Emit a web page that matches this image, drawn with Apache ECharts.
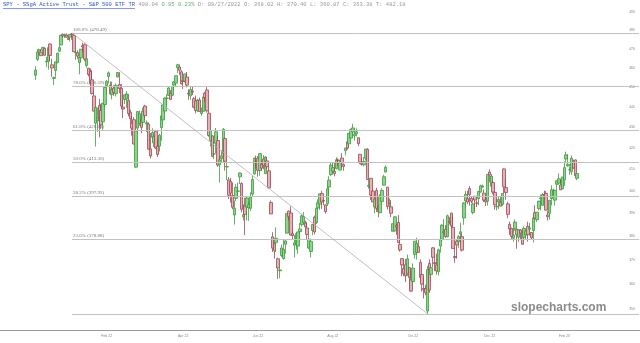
<!DOCTYPE html>
<html>
<head>
<meta charset="utf-8">
<script src="https://cdn.jsdelivr.net/npm/echarts@6/dist/echarts.min.js"></script>
<style>
  html, body { margin: 0; padding: 0; background: #fff; }
  #chart { width: 640px; height: 343px; }
</style>
</head>
<body>
<div id="chart"></div>
<script>
  const firstDay = '2021-12-06';
  const lastDay = '2023-02-10';
  const holidays = ['2021-12-24', '2022-01-17', '2022-02-21', '2022-04-15', '2022-05-30', '2022-06-20',
    '2022-07-04', '2022-09-05', '2022-11-24', '2022-12-26', '2023-01-02', '2023-01-16'];

  // [open, close, low, high], one row per trading day
  const ohlc = [
    // Dec 2021
    [456.13, 458.79, 453.73, 460.79], [464.41, 468.28, 463.51, 468.88], [468.70, 469.52, 466.27, 470.00],
    [468.15, 466.35, 466.14, 469.63], [469.23, 470.74, 466.47, 470.90], [470.19, 466.57, 466.08, 470.56],
    [463.09, 463.36, 460.25, 465.74], [463.42, 470.60, 459.00, 470.86], [472.57, 466.45, 463.39, 472.87],
    [461.55, 459.87, 455.31, 464.74], [454.48, 454.98, 451.14, 455.40], [458.61, 463.06, 455.29, 463.21],
    [462.79, 467.69, 462.23, 467.81], [468.75, 470.60, 468.31, 472.19], [472.06, 477.26, 472.01, 477.31],
    [477.72, 476.87, 476.06, 478.21], [476.98, 477.48, 475.75, 478.16], [477.43, 476.16, 475.86, 478.30],
    [475.64, 474.96, 474.67, 476.86],
    // Jan 2022
    [476.30, 477.71, 473.85, 477.85], [478.00, 477.55, 474.81, 478.49], [477.16, 468.38, 468.28, 477.98],
    [467.89, 467.94, 464.07, 470.82], [467.95, 466.09, 464.65, 469.20], [462.70, 465.51, 456.60, 465.74],
    [465.23, 469.75, 463.04, 469.85], [471.59, 471.02, 468.22, 473.20], [472.19, 464.53, 463.44, 472.88],
    [461.19, 464.72, 459.96, 465.09], [459.74, 456.49, 455.55, 459.96], [458.13, 451.75, 451.06, 459.61],
    [453.75, 446.75, 446.26, 458.74], [445.56, 437.98, 437.82, 448.06], [432.03, 439.84, 420.76, 440.38],
    [433.06, 434.47, 427.86, 439.72], [440.72, 433.38, 425.14, 444.04], [438.26, 431.24, 429.26, 441.59],
    [432.68, 441.95, 428.46, 442.00], [441.24, 449.91, 439.81, 450.28],
    // Feb 2022
    [450.68, 452.95, 446.93, 453.63], [455.50, 457.35, 451.81, 458.12], [450.95, 446.60, 445.92, 452.97],
    [446.35, 448.70, 443.83, 452.78], [449.51, 447.26, 445.59, 450.99], [446.73, 450.94, 445.26, 451.92],
    [455.22, 457.54, 455.01, 457.88], [451.34, 449.32, 446.97, 457.71], [449.41, 440.46, 438.94, 451.61],
    [439.92, 439.02, 434.55, 443.50], [443.73, 446.10, 441.51, 446.28], [443.93, 446.60, 439.60, 448.06],
    [443.22, 436.73, 435.33, 446.57], [437.33, 434.23, 431.82, 438.66], [431.89, 429.57, 425.95, 435.50],
    [433.72, 421.95, 421.79, 435.00], [411.02, 428.30, 410.64, 428.76], [429.61, 437.75, 426.92, 437.84],
    [432.03, 436.63, 430.70, 438.20],
    // Mar 2022
    [435.04, 429.98, 427.11, 437.17], [432.37, 437.89, 430.70, 439.72], [440.47, 435.71, 433.61, 441.11],
    [431.75, 432.17, 427.68, 433.37], [431.55, 419.43, 419.36, 432.30], [419.62, 416.25, 415.12, 427.21],
    [425.14, 427.41, 422.90, 429.51], [422.52, 425.48, 420.44, 426.43], [428.12, 420.07, 419.53, 428.77],
    [420.89, 417.00, 415.79, 424.55], [420.94, 426.17, 418.36, 426.84], [429.89, 435.62, 423.55, 435.68],
    [433.59, 441.07, 433.19, 441.07], [438.00, 444.52, 437.15, 444.86], [444.34, 444.39, 440.68, 446.46],
    [445.86, 449.59, 445.54, 450.58], [446.91, 443.80, 443.71, 448.49], [445.94, 450.49, 445.40, 450.50],
    [451.16, 452.69, 448.43, 452.98], [452.06, 455.91, 450.06, 455.91], [460.02, 461.55, 457.18, 462.07],
    [460.34, 458.70, 456.30, 461.20], [457.89, 451.64, 451.43, 458.76],
    // Apr 2022
    [453.31, 452.92, 449.14, 453.46], [453.13, 456.80, 452.31, 456.91], [455.22, 451.03, 449.82, 457.83],
    [446.89, 446.52, 443.59, 448.93], [445.59, 448.77, 443.71, 450.69], [447.97, 447.57, 445.94, 450.63],
    [444.11, 439.92, 439.39, 445.00], [443.08, 438.29, 436.84, 445.75], [438.03, 443.31, 437.68, 444.11],
    [443.55, 437.79, 437.72, 444.73], [436.81, 437.97, 435.68, 439.75], [437.86, 445.04, 437.68, 445.80],
    [446.92, 444.71, 442.43, 447.57], [448.54, 438.06, 437.18, 450.01], [436.91, 426.04, 425.44, 438.08],
    [423.67, 428.51, 420.76, 428.69], [425.83, 416.10, 415.71, 426.04], [417.24, 417.27, 414.85, 422.92],
    [422.29, 427.81, 417.60, 429.66], [423.59, 412.00, 411.21, 425.87],
    // May 2022
    [412.07, 414.48, 403.93, 415.92], [415.01, 416.38, 413.03, 418.93], [417.08, 429.06, 413.36, 429.66],
    [424.55, 413.81, 409.44, 425.00], [411.10, 411.34, 405.02, 414.80], [405.10, 398.17, 396.50, 406.41],
    [404.49, 399.09, 394.82, 406.08], [398.07, 392.75, 391.91, 404.04], [389.37, 392.34, 385.15, 395.80],
    [396.71, 401.72, 395.61, 403.18], [399.98, 400.09, 397.66, 403.97], [406.53, 408.32, 403.21, 408.57],
    [403.50, 391.86, 390.55, 404.03], [388.62, 389.46, 386.96, 394.14], [393.25, 389.63, 380.54, 397.03],
    [392.83, 396.92, 386.96, 397.73], [392.56, 393.89, 386.78, 395.15], [392.31, 397.37, 391.13, 399.45],
    [398.67, 405.31, 397.75, 407.04], [407.91, 415.26, 407.52, 415.38], [413.55, 412.93, 410.40, 416.46],
    // Jun 2022
    [415.17, 409.59, 406.60, 416.24], [409.42, 417.39, 407.04, 417.44], [412.40, 410.54, 409.47, 414.04],
    [414.78, 411.79, 410.05, 416.61], [408.10, 415.74, 407.71, 416.22], [413.93, 411.22, 410.16, 415.82],
    [409.34, 401.44, 401.41, 411.74], [394.88, 389.80, 389.75, 395.78], [379.85, 375.00, 373.30, 381.81],
    [376.85, 373.87, 370.55, 377.94], [377.36, 379.20, 373.36, 383.90], [370.51, 366.65, 362.17, 370.94],
    [365.51, 365.86, 362.43, 369.38], [371.89, 375.07, 371.18, 376.53], [370.62, 374.39, 370.18, 378.83],
    [376.64, 378.06, 372.68, 378.83], [381.40, 390.08, 381.37, 390.09], [391.05, 388.59, 386.97, 391.36],
    [390.23, 380.65, 380.38, 393.16], [381.23, 380.34, 378.45, 382.27], [376.24, 377.25, 371.04, 380.66],
    // Jul 2022
    [376.56, 381.24, 374.33, 381.70], [375.88, 381.96, 372.60, 381.98], [382.11, 383.25, 378.42, 385.87],
    [385.12, 388.99, 384.25, 389.83], [385.96, 388.67, 385.27, 390.64], [385.85, 384.23, 383.74, 386.87],
    [383.65, 380.83, 378.85, 386.16], [375.10, 378.83, 374.66, 381.92], [373.61, 377.91, 371.04, 379.05],
    [382.55, 385.13, 380.54, 385.25], [388.38, 381.95, 380.85, 389.09], [386.08, 392.27, 385.39, 392.87],
    [392.47, 394.77, 391.96, 396.26], [394.16, 398.79, 391.63, 398.84], [398.92, 395.09, 392.03, 400.18],
    [395.75, 395.57, 393.65, 396.47], [393.84, 390.89, 389.95, 394.06], [394.36, 401.04, 393.29, 402.88],
    [401.89, 405.01, 397.73, 406.80], [407.58, 411.99, 406.93, 413.03],
    // Aug 2022
    [409.15, 410.77, 408.10, 413.41], [409.12, 408.06, 406.78, 413.00], [410.30, 414.45, 410.03, 415.68],
    [414.37, 414.17, 411.64, 415.09], [409.66, 413.47, 409.57, 414.15], [415.25, 412.99, 410.59, 417.62],
    [412.22, 411.35, 409.34, 412.75], [418.78, 419.99, 416.54, 420.12], [422.99, 419.99, 419.21, 424.96],
    [422.03, 427.10, 421.03, 427.21], [424.77, 428.86, 424.50, 429.40], [427.73, 429.70, 426.11, 431.73],
    [425.88, 426.65, 423.60, 428.82], [426.86, 427.89, 425.53, 429.50], [424.98, 422.14, 420.96, 425.00],
    [417.05, 413.35, 412.40, 417.20], [412.90, 412.35, 411.77, 415.41], [412.11, 413.67, 411.36, 415.83],
    [415.24, 419.51, 414.13, 419.56], [419.39, 405.31, 405.25, 419.96], [402.20, 402.63, 401.11, 405.84],
    [405.89, 398.21, 395.96, 405.91], [400.05, 395.18, 395.04, 400.72],
    // Sep 2022
    [392.89, 396.42, 390.04, 396.78], [400.28, 392.24, 390.67, 401.56], [393.13, 390.76, 388.42, 394.12],
    [390.37, 397.78, 390.19, 398.58], [395.30, 400.38, 395.12, 401.28], [402.74, 406.60, 402.55, 407.51],
    [408.78, 410.97, 408.57, 411.73], [401.83, 393.10, 391.77, 401.93], [394.47, 394.60, 391.07, 396.77],
    [392.96, 390.12, 388.42, 395.96], [382.26, 385.56, 382.11, 385.62], [382.43, 388.55, 382.23, 388.82],
    [384.88, 384.09, 380.66, 385.54], [386.11, 377.39, 377.30, 389.31], [376.58, 374.22, 373.52, 378.30],
    [370.58, 367.95, 363.29, 370.62], [366.41, 364.31, 363.29, 370.21], [368.02, 363.38, 360.87, 370.40],
    [364.38, 370.53, 363.30, 372.30], [366.79, 362.79, 358.70, 367.11], [361.80, 357.18, 357.04, 365.91],
    // Oct 2022
    [361.08, 366.61, 359.21, 368.55], [372.40, 377.97, 370.62, 378.00], [373.15, 377.09, 370.18, 379.46],
    [375.62, 373.20, 372.91, 378.72], [368.97, 362.79, 360.94, 370.21], [363.96, 360.02, 357.04, 364.21],
    [358.24, 357.74, 354.23, 363.03], [358.17, 356.56, 355.54, 359.82], [349.21, 365.97, 348.11, 367.51],
    [368.55, 357.63, 356.50, 370.26], [364.01, 366.82, 363.42, 367.98], [375.13, 371.13, 367.11, 375.45],
    [368.89, 368.50, 365.37, 371.84], [368.03, 365.41, 363.92, 372.67], [365.12, 374.29, 363.55, 374.80],
    [375.89, 378.87, 373.11, 380.06], [378.79, 384.92, 377.87, 385.25], [381.62, 382.02, 381.00, 387.58],
    [383.07, 379.98, 379.34, 385.00], [379.87, 389.02, 379.68, 389.52], [386.44, 386.21, 385.12, 388.40],
    // Nov 2022
    [390.14, 384.52, 383.29, 390.39], [383.90, 374.87, 374.76, 388.63], [371.47, 371.01, 368.79, 375.16],
    [377.99, 376.35, 370.62, 378.87], [377.71, 379.95, 375.18, 380.57], [381.11, 382.00, 377.07, 386.00],
    [379.93, 374.13, 373.61, 381.14], [388.05, 394.69, 385.06, 395.04], [395.59, 398.51, 393.31, 400.22],
    [396.66, 395.12, 394.15, 400.18], [401.15, 398.49, 393.48, 402.31], [396.78, 395.45, 394.55, 397.78],
    [390.46, 394.24, 389.64, 394.95], [397.74, 396.03, 391.34, 397.81], [394.64, 394.59, 392.92, 395.82],
    [396.63, 399.90, 393.68, 400.07], [399.55, 402.42, 399.31, 402.93], [401.83, 402.33, 401.54, 403.03],
    [399.09, 395.91, 395.11, 400.81], [396.05, 395.23, 393.30, 397.30], [395.49, 407.68, 393.48, 407.68],
    // Dec 2022
    [408.77, 407.38, 404.05, 410.00], [402.25, 406.91, 402.14, 407.86], [403.95, 399.59, 398.55, 404.93],
    [399.42, 393.83, 391.69, 399.99], [392.94, 393.16, 391.40, 395.64], [395.14, 396.24, 391.97, 397.36],
    [394.94, 393.28, 393.14, 397.30], [394.11, 398.95, 393.26, 398.99], [410.22, 401.97, 399.07, 410.49],
    [401.61, 399.40, 396.10, 405.50], [394.30, 389.63, 387.95, 395.25], [385.18, 383.27, 380.66, 386.50],
    [383.47, 380.02, 378.43, 383.82], [379.23, 380.54, 377.83, 383.40], [383.25, 386.23, 382.46, 387.41],
    [383.05, 380.72, 374.77, 383.18], [379.65, 382.91, 377.64, 383.06], [382.79, 381.40, 378.43, 383.15],
    [381.33, 376.66, 376.42, 383.39], [379.63, 383.44, 379.36, 384.35], [380.64, 382.43, 378.46, 382.58],
    // Jan 2023
    [384.37, 380.82, 377.83, 386.43], [383.18, 383.76, 380.34, 385.88], [381.72, 379.38, 378.76, 381.84],
    [382.61, 388.08, 377.36, 389.25], [390.37, 387.86, 387.67, 393.70], [387.25, 390.58, 386.27, 390.65],
    [392.23, 395.52, 391.38, 395.60], [396.67, 396.96, 391.38, 398.49], [393.62, 398.50, 393.40, 399.10],
    [398.48, 397.77, 396.04, 400.23], [399.01, 391.49, 391.30, 400.12], [389.36, 388.64, 386.93, 391.08],
    [390.10, 395.88, 387.26, 396.04], [396.72, 400.63, 393.56, 402.65], [398.88, 400.20, 397.64, 401.15],
    [395.95, 400.35, 393.56, 400.70], [403.13, 404.75, 400.28, 404.92], [403.66, 405.68, 403.02, 408.16],
    [402.80, 400.59, 400.51, 405.13], [401.13, 406.48, 400.77, 406.53],
    // Feb 2023
    [405.21, 410.80, 402.35, 413.67], [414.86, 416.78, 412.83, 418.31], [411.59, 412.35, 411.29, 416.97],
    [409.79, 409.83, 407.57, 411.29], [408.87, 415.19, 407.52, 416.49], [413.13, 410.65, 410.24, 414.53],
    [414.41, 407.09, 405.98, 414.57], [405.86, 408.04, 405.01, 408.44]
  ];

  const yTicks = [350, 360, 370, 380, 390, 400, 410, 420, 430, 440, 450, 460, 470, 480, 490];
  const xTickDates = ['2022-02-01', '2022-04-01', '2022-06-01', '2022-08-01', '2022-10-03', '2022-12-01', '2023-02-01'];
  const xTickLabels = ['Feb 22', 'Apr 22', 'Jun 22', 'Aug 22', 'Oct 22', 'Dec 22', 'Feb 23'];

  const fibStart = '2022-01-04';
  const fibValues = [478.49, 450.59, 428.68, 413.30, 397.92, 378.88, 348.11];
  const fibLabels = ['100.0% (478.49)', '78.6% (450.59)', '61.8% (428.68)', '50.0% (413.30)',
    '38.2% (397.92)', '23.6% (378.88)', ''];
  const trendFrom = ['2022-01-04', 478.49];
  const trendTo = ['2022-10-13', 348.11];

  // empty slots so the axis runs edge to edge
  const padLeft = 19;
  const padRight = 34;

  const days = [];
  let d = new Date(firstDay + 'T00:00:00Z');
  const end = new Date(lastDay + 'T00:00:00Z');
  while (d <= end) {
    const s = d.toISOString().slice(0, 10);
    const wd = d.getUTCDay();
    if (wd !== 0 && wd !== 6 && holidays.indexOf(s) < 0) days.push(s);
    d = new Date(d.getTime() + 86400000);
  }
  if (days.length !== ohlc.length) console.warn('day count mismatch', days.length, ohlc.length);

  const cats = [];
  const candles = [];
  for (let i = 0; i < padLeft; i++) { cats.push('L' + i); candles.push(['-', '-', '-', '-']); }
  days.forEach((day, i) => { cats.push(day); candles.push(ohlc[i]); });
  for (let i = 0; i < padRight; i++) { cats.push('R' + i); candles.push(['-', '-', '-', '-']); }
  const lastCat = cats[cats.length - 1];

  const chart = echarts.init(document.getElementById('chart'));
  chart.setOption({
    animation: false,
    grid: { left: 0, right: 0, top: 3, bottom: 13 },
    xAxis: {
      type: 'category',
      data: cats,
      boundaryGap: true,
      axisLine: { show: true, lineStyle: { color: '#9a9a9a', width: 1 } },
      axisTick: { show: false },
      splitLine: { show: false },
      axisLabel: {
        interval: (idx, val) => xTickDates.indexOf(val) >= 0,
        formatter: (val) => xTickLabels[xTickDates.indexOf(val)] || '',
        fontSize: 3.5,
        color: '#888',
        margin: 4,
        fontFamily: 'Liberation Sans'
      }
    },
    yAxis: {
      type: 'log',
      logBase: 10,
      min: 341.8,
      max: 495,
      position: 'right',
      axisLine: { show: false },
      axisTick: { show: false },
      splitLine: { show: false },
      axisLabel: {
        inside: true,
        customValues: yTicks,
        fontSize: 3.5,
        color: '#888',
        margin: 5,
        fontFamily: 'Liberation Sans'
      }
    },
    graphic: [
      {
        type: 'text', left: 3, top: 2,
        style: {
          text: '{t|SPY - SSgA Active Trust - S&P 500 ETF TR} {v|408.04} {g|0.95 0.23%} {v|D: 09/27/2022 O: 368.02 H: 370.40 L: 360.87 C: 363.38 T: 482.18}',
          font: '5.5px "Liberation Mono"',
          rich: {
            t: { fill: '#3355cc', fontSize: 5.5, fontFamily: 'Liberation Mono' },
            v: { fill: '#999', fontSize: 5.5, fontFamily: 'Liberation Mono' },
            g: { fill: '#6bb36b', fontSize: 5.5, fontFamily: 'Liberation Mono' }
          }
        }
      },
      { type: 'line', shape: { x1: 3, y1: 8.5, x2: 135, y2: 8.5 }, style: { stroke: '#3355cc', lineWidth: 0.6 } },
      {
        type: 'text', left: 511, top: 302,
        style: { text: 'slopecharts.com', font: 'bold 12px "Liberation Sans"', fill: '#8c8c8c' }
      }
    ],
    series: [
      {
        type: 'line',
        data: [],
        z: 1,
        silent: true,
        markLine: {
          silent: true,
          symbol: ['none', 'none'],
          animation: false,
          lineStyle: { type: 'solid', color: '#c2c2c2', width: 1 },
          label: {
            position: 'insideStartTop',
            distance: 1,
            fontSize: 5,
            color: '#777',
            fontFamily: 'Liberation Serif'
          },
          data: fibValues.map((v, i) => [
            { coord: [fibStart, v], label: { show: fibLabels[i] !== '', formatter: fibLabels[i] } },
            { coord: [lastCat, v] }
          ]).concat([[
            { coord: trendFrom, label: { show: false }, lineStyle: { color: '#b0b0b0', width: 0.8 } },
            { coord: trendTo }
          ]])
        }
      },
      {
        type: 'candlestick',
        z: 2,
        data: candles,
        barWidth: 3,
        itemStyle: {
          color: '#8ad58a',
          color0: '#e6b0b5',
          borderColor: '#3f9b3f',
          borderColor0: '#9c4a55',
          borderWidth: 0.8
        }
      }
    ]
  });
</script>
</body>
</html>
